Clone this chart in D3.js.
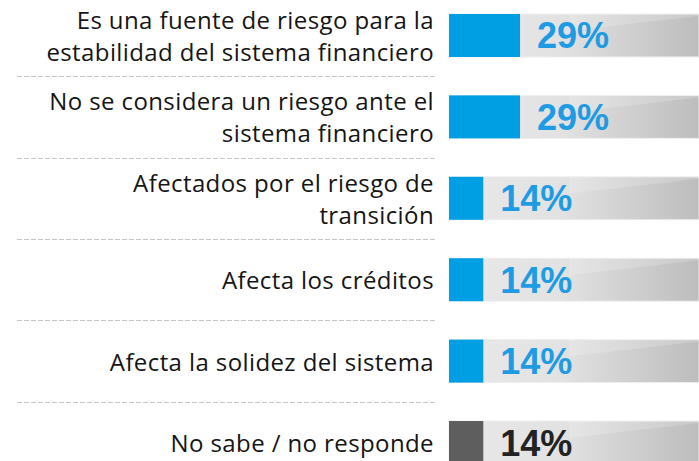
<!DOCTYPE html>
<html>
<head>
<meta charset="utf-8">
<script src="https://cdn.jsdelivr.net/npm/d3@7"></script>
<style>
  html, body { margin: 0; padding: 0; background: #fff; }
  svg { display: block; }
</style>
</head>
<body>
<div id="chart"></div>
<script>
// categories (each label split into its display lines)
const categories = [
    ["Es una fuente de riesgo para la", "estabilidad del sistema financiero"],
    ["No se considera un riesgo ante el", "sistema financiero"],
    ["Afectados por el riesgo de", "transición"],
    ["Afecta los créditos"],
    ["Afecta la solidez del sistema"],
    ["No sabe / no responde"]
];
const values = [29, 29, 14, 14, 14, 14];
const valueLabels = ["29%", "29%", "14%", "14%", "14%", "14%"];
const isNoAnswer = [false, false, false, false, false, true];

const width = 699, height = 461;

const svg = d3.select('#chart')
      .append('svg')
      .attr('width', width)
      .attr('height', height);

const defs = svg.append('defs');
const grad = defs.append('linearGradient')
      .attr('id', 'bgGrad')
      .attr('x1', '0%').attr('x2', '100%')
      .attr('y1', '0%').attr('y2', '0%');
grad.append('stop').attr('offset', '0%').attr('stop-color', '#e9e9e9');
grad.append('stop').attr('offset', '45%').attr('stop-color', '#e2e2e2');
grad.append('stop').attr('offset', '100%').attr('stop-color', '#bdbdbd');

const barX = 449;
const xScale = d3.scaleLinear()
      .domain([0, 100])
      .range([barX, barX + 245]);

const yScale = d3.scaleBand()
      .domain(d3.range(categories.length))
      .range([14, 464])
      .paddingInner(0.472)
      .paddingOuter(0);

const bw = yScale.bandwidth();
const gap = yScale.step() - bw;

// dashed separators
svg.selectAll('line.sep')
    .data(d3.range(1, categories.length))
    .join('line')
    .attr('class', 'sep')
    .attr('x1', 17).attr('x2', 435)
    .attr('y1', i => Math.round(yScale(i) - gap / 2) + 0.5)
    .attr('y2', i => Math.round(yScale(i) - gap / 2) + 0.5)
    .attr('stroke', '#c6c6c6')
    .attr('stroke-width', 1)
    .attr('stroke-dasharray', '5,2');

const rows = svg.selectAll('g.row')
      .data(values)
      .join('g')
      .attr('class', 'row');

// background track
rows.append('rect')
    .attr('x', barX)
    .attr('y', (d, i) => yScale(i))
    .attr('width', width - barX)
    .attr('height', bw)
    .attr('fill', 'url(#bgGrad)')
    .attr('stroke', '#efefef')
    .attr('stroke-width', 1);

// glossy wedge
rows.append('path')
    .attr('d', (d, i) => {
        const t = yScale(i), x0 = barX + 120;
        return 'M' + x0 + ',' + (t + 17) + 'L' + width + ',' + (t + 2) +
            'L' + width + ',' + t + 'L' + x0 + ',' + t + 'Z';
    })
    .attr('fill', '#ffffff')
    .attr('opacity', 0.18);

// value bars
rows.append('rect')
    .attr('x', barX)
    .attr('y', (d, i) => yScale(i))
    .attr('width', d => xScale(d) - barX)
    .attr('height', bw)
    .attr('fill', (d, i) => isNoAnswer[i] ? '#5e5e5e' : '#009fe3');

// value labels
rows.append('text')
    .attr('x', d => xScale(d) + 17)
    .attr('y', (d, i) => yScale(i) + bw / 2 + 13)
    .attr('font-family', '"Liberation Sans", Arial, sans-serif')
    .attr('font-weight', 'bold')
    .attr('font-size', 36)
    .attr('fill', (d, i) => isNoAnswer[i] ? '#222222' : '#1e9be2')
    .text((d, i) => valueLabels[i]);

// category labels
const lineH = 32;
rows.append('text')
    .attr('text-anchor', 'end')
    .attr('font-family', '"Open Sans", sans-serif')
    .attr('font-size', 24)
    .attr('letter-spacing', 0.4)
    .attr('fill', '#151515')
    .each(function(d, i) {
        const lines = categories[i];
        const c = yScale(i) + bw / 2;
        const first = c - (lines.length - 1) * lineH / 2 + 9.5;
        d3.select(this).selectAll('tspan')
            .data(lines)
            .join('tspan')
            .attr('x', 434)
            .attr('y', (l, k) => first + k * lineH)
            .text(l => l);
    });
</script>
</body>
</html>
